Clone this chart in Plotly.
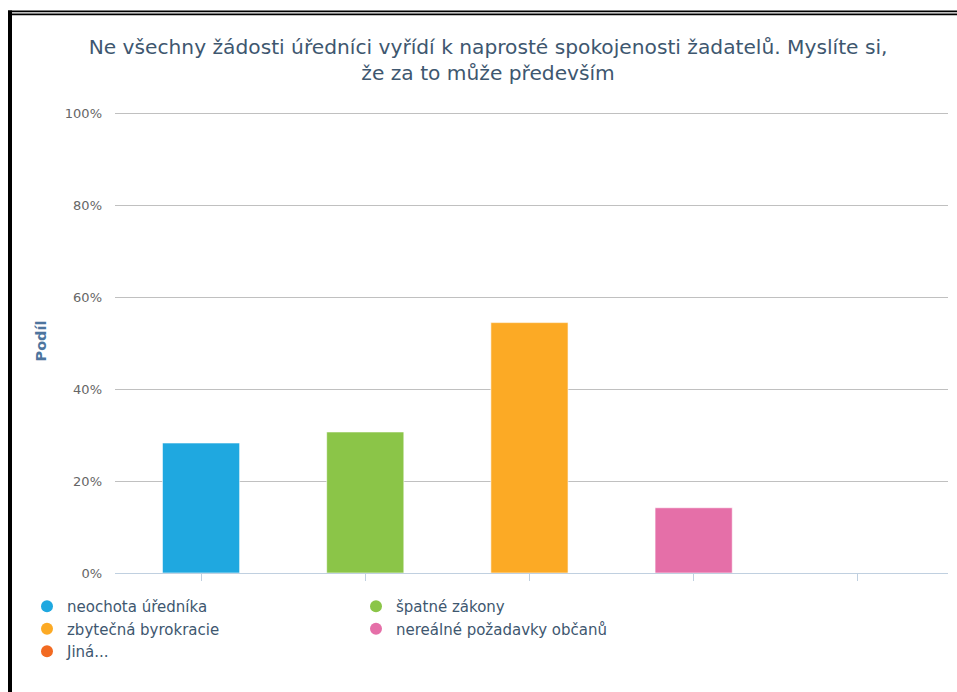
import plotly.graph_objects as go

# Survey answers and their shares (%)
categories = ["neochota úředníka", "špatné zákony", "zbytečná byrokracie",
              "nereálné požadavky občanů", "Jiná..."]
shares = [28.3, 30.7, 54.5, 14.2, 0.0]
colors = ["#1FA8E0", "#8BC548", "#FCAA25", "#E56FA8", "#F26A21"]

y_ticks = [0, 20, 40, 60, 80, 100]
y_tick_labels = ["0%", "20%", "40%", "60%", "80%", "100%"]

title_text = ("Ne všechny žádosti úředníci vyřídí k naprosté spokojenosti žadatelů. "
              "Myslíte si,<br>že za to může především")
y_title = "Podíl"

FONT = "DejaVu Sans"
W, H = 957, 692
Y_MAX = 101  # a little headroom so the 100% gridline is drawn
PX_PER_UNIT = 4.59
M_L, M_R, M_B = 115, 9, 119
M_T = 114 - (Y_MAX - 100) * PX_PER_UNIT
plot_w = W - M_L - M_R
plot_h = H - M_T - M_B

fig = go.Figure()

for i, (name, val, col) in enumerate(zip(categories, shares, colors)):
    fig.add_trace(go.Bar(
        x=[i], y=[val], name=name, width=0.47,
        marker=dict(color=col, line=dict(color="rgba(255,255,255,0.6)", width=1)),
        showlegend=False, hovertemplate="%{y:.1f}%<extra>" + name + "</extra>",
    ))
    # round legend symbol for each series
    fig.add_trace(go.Scatter(
        x=[None], y=[None], mode="markers", name=name,
        marker=dict(color=col, size=12, symbol="circle"),
        showlegend=True,
    ))


def px_x(p):
    return (p - M_L) / plot_w


def px_y(p):
    return (H - M_B - p) / plot_h


# black frame around the chart
frame = [
    (8, 11, W + 5, 12.7),
    (12, 14, W + 5, 15.7),
    (8, 11, 12, H + 5),
]
shapes = [
    dict(type="rect", xref="paper", yref="paper",
         x0=px_x(a), x1=px_x(c), y0=px_y(d), y1=px_y(b),
         fillcolor="black", line=dict(width=0), layer="above")
    for a, b, c, d in frame
]

fig.update_layout(
    width=W, height=H,
    margin=dict(l=M_L, r=M_R, t=M_T, b=M_B),
    paper_bgcolor="white", plot_bgcolor="white",
    barmode="overlay",
    font=dict(family=FONT, color="#3E576F"),
    title=dict(text=title_text, x=0.51, xref="container", xanchor="center",
               y=1 - 54 / H, yref="container", yanchor="top",
               font=dict(family=FONT, size=20.2, color="#3E576F")),
    xaxis=dict(range=[-0.524, 4.549], tickvals=list(range(len(categories))),
               showticklabels=False, ticks="outside", ticklen=7, tickwidth=1,
               tickcolor="#C0D0E0", showline=True, linecolor="#C0D0E0",
               linewidth=1, showgrid=False, zeroline=False, fixedrange=True),
    yaxis=dict(range=[0, Y_MAX], tickvals=y_ticks, ticktext=y_tick_labels,
               showgrid=True, gridcolor="#C0C0C0", gridwidth=1, zeroline=False,
               showline=False, ticks="", ticklabelstandoff=12,
               tickfont=dict(family=FONT, size=13, color="#666666"),
               title=dict(text="<b>" + y_title + "</b>", standoff=14,
                          font=dict(family=FONT, size=14.5, color="#4D759E")),
               fixedrange=True),
    legend=dict(orientation="h", x=px_x(27), xanchor="left",
                y=px_y(590), yanchor="top", entrywidth=284,
                font=dict(family=FONT, size=15, color="#3E576F"),
                bgcolor="rgba(0,0,0,0)", itemclick=False, itemdoubleclick=False),
    shapes=shapes,
)

fig.write_html("out.html")
